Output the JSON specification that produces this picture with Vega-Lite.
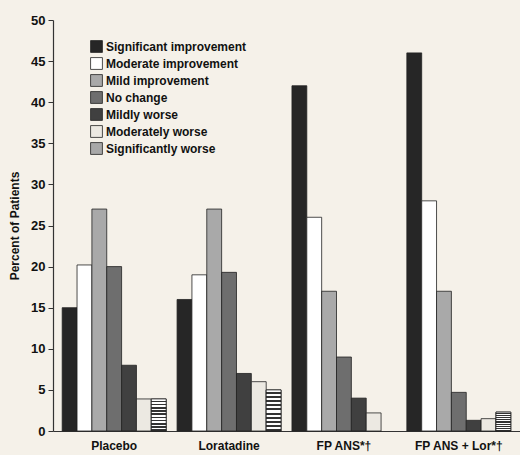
{
  "$schema": "https://vega.github.io/schema/vega-lite/v6.json",
  "width": 467,
  "height": 411,
  "autosize": {"type": "none"},
  "padding": {"left": 53, "top": 20, "right": 0, "bottom": 24},
  "background": "#f5f1e9",
  "config": {
    "view": {"stroke": null},
    "font": "Liberation Sans"
  },
  "data": {
    "values": [
      {"group": "Placebo", "response": "Significant improvement", "pct": 15},
      {"group": "Placebo", "response": "Moderate improvement", "pct": 20.2},
      {"group": "Placebo", "response": "Mild improvement", "pct": 27},
      {"group": "Placebo", "response": "No change", "pct": 20},
      {"group": "Placebo", "response": "Mildly worse", "pct": 8},
      {"group": "Placebo", "response": "Moderately worse", "pct": 3.9},
      {"group": "Placebo", "response": "Significantly worse", "pct": 3.9},
      {"group": "Loratadine", "response": "Significant improvement", "pct": 16},
      {"group": "Loratadine", "response": "Moderate improvement", "pct": 19},
      {"group": "Loratadine", "response": "Mild improvement", "pct": 27},
      {"group": "Loratadine", "response": "No change", "pct": 19.3},
      {"group": "Loratadine", "response": "Mildly worse", "pct": 7},
      {"group": "Loratadine", "response": "Moderately worse", "pct": 6},
      {"group": "Loratadine", "response": "Significantly worse", "pct": 5},
      {"group": "FP ANS*†", "response": "Significant improvement", "pct": 42},
      {"group": "FP ANS*†", "response": "Moderate improvement", "pct": 26},
      {"group": "FP ANS*†", "response": "Mild improvement", "pct": 17},
      {"group": "FP ANS*†", "response": "No change", "pct": 9},
      {"group": "FP ANS*†", "response": "Mildly worse", "pct": 4},
      {"group": "FP ANS*†", "response": "Moderately worse", "pct": 2.2},
      {"group": "FP ANS*†", "response": "Significantly worse", "pct": 0},
      {"group": "FP ANS + Lor*†", "response": "Significant improvement", "pct": 46},
      {"group": "FP ANS + Lor*†", "response": "Moderate improvement", "pct": 28},
      {"group": "FP ANS + Lor*†", "response": "Mild improvement", "pct": 17},
      {"group": "FP ANS + Lor*†", "response": "No change", "pct": 4.7},
      {"group": "FP ANS + Lor*†", "response": "Mildly worse", "pct": 1.3},
      {"group": "FP ANS + Lor*†", "response": "Moderately worse", "pct": 1.5},
      {"group": "FP ANS + Lor*†", "response": "Significantly worse", "pct": 2.3}
    ]
  },
  "encoding": {
    "x": {
      "field": "group",
      "type": "nominal",
      "sort": ["Placebo", "Loratadine", "FP ANS*†", "FP ANS + Lor*†"],
      "scale": {"paddingInner": 0.095, "paddingOuter": 0.08},
      "axis": {
        "title": null,
        "labelAngle": 0,
        "ticks": false,
        "labelFontSize": 12,
        "labelFontWeight": "bold",
        "labelColor": "#111",
        "labelPadding": 9,
        "domainColor": "#333",
        "domainWidth": 1.2
      }
    },
    "xOffset": {
      "field": "response",
      "type": "nominal",
      "scale": {"domain": ["Significant improvement", "Moderate improvement", "Mild improvement", "No change", "Mildly worse", "Moderately worse", "Significantly worse"], "paddingInner": 0, "paddingOuter": 0}
    },
    "y": {
      "field": "pct",
      "type": "quantitative",
      "scale": {"domain": [0, 50], "nice": false},
      "axis": {
        "title": "Percent of Patients",
        "titleFontSize": 12,
        "titleFontWeight": "bold",
        "titleColor": "#111",
        "titlePadding": 9,
        "values": [0, 5, 10, 15, 20, 25, 30, 35, 40, 45, 50],
        "grid": false,
        "tickSize": 5,
        "tickColor": "#333",
        "labelFontSize": 13,
        "labelFontWeight": "bold",
        "labelColor": "#111",
        "labelPadding": 3,
        "domainColor": "#333",
        "domainWidth": 1.2
      }
    }
  },
  "layer": [
    {
      "transform": [{"filter": "datum.pct > 0"}],
      "mark": {"type": "bar", "stroke": "#222", "strokeWidth": 0.8},
      "encoding": {
        "color": {
          "field": "response",
          "type": "nominal",
          "scale": {
            "domain": ["Significant improvement", "Moderate improvement", "Mild improvement", "No change", "Mildly worse", "Moderately worse", "Significantly worse"],
            "range": ["#262626", "#ffffff", "#a9a9a9", "#6e6e6e", "#404040", "#ece9e2", "#a8a8a8"]
          },
          "legend": {
            "title": null,
            "orient": "none",
            "legendX": 37,
            "legendY": 20,
            "symbolType": "square",
            "symbolSize": 140,
            "symbolStrokeColor": "#222",
            "symbolStrokeWidth": 0.8,
            "labelFontSize": 12,
            "labelFontWeight": "bold",
            "labelColor": "#111",
            "labelOffset": 3,
            "rowPadding": 0,
            "labelLimit": 300
          }
        }
      }
    },
    {
      "transform": [{"filter": "datum.response === 'Significantly worse' && datum.pct > 0"}],
      "mark": {
        "type": "bar",
        "stroke": "#222",
        "strokeWidth": 0.8,
        "fill": {
          "gradient": "linear",
          "x1": 0, "y1": 0, "x2": 0, "y2": 1,
          "stops": [
            {"offset": 0, "color": "#ffffff"}, {"offset": 0.05, "color": "#ffffff"}, {"offset": 0.05, "color": "#333333"}, {"offset": 0.1, "color": "#333333"},
            {"offset": 0.1, "color": "#ffffff"}, {"offset": 0.15, "color": "#ffffff"}, {"offset": 0.15, "color": "#333333"}, {"offset": 0.2, "color": "#333333"},
            {"offset": 0.2, "color": "#ffffff"}, {"offset": 0.25, "color": "#ffffff"}, {"offset": 0.25, "color": "#333333"}, {"offset": 0.3, "color": "#333333"},
            {"offset": 0.3, "color": "#ffffff"}, {"offset": 0.35, "color": "#ffffff"}, {"offset": 0.35, "color": "#333333"}, {"offset": 0.4, "color": "#333333"},
            {"offset": 0.4, "color": "#ffffff"}, {"offset": 0.45, "color": "#ffffff"}, {"offset": 0.45, "color": "#333333"}, {"offset": 0.5, "color": "#333333"},
            {"offset": 0.5, "color": "#ffffff"}, {"offset": 0.55, "color": "#ffffff"}, {"offset": 0.55, "color": "#333333"}, {"offset": 0.6, "color": "#333333"},
            {"offset": 0.6, "color": "#ffffff"}, {"offset": 0.65, "color": "#ffffff"}, {"offset": 0.65, "color": "#333333"}, {"offset": 0.7, "color": "#333333"},
            {"offset": 0.7, "color": "#ffffff"}, {"offset": 0.75, "color": "#ffffff"}, {"offset": 0.75, "color": "#333333"}, {"offset": 0.8, "color": "#333333"},
            {"offset": 0.8, "color": "#ffffff"}, {"offset": 0.85, "color": "#ffffff"}, {"offset": 0.85, "color": "#333333"}, {"offset": 0.9, "color": "#333333"},
            {"offset": 0.9, "color": "#ffffff"}, {"offset": 0.95, "color": "#ffffff"}, {"offset": 0.95, "color": "#333333"}, {"offset": 1, "color": "#333333"}
          ]
        }
      }
    }
  ]
}
